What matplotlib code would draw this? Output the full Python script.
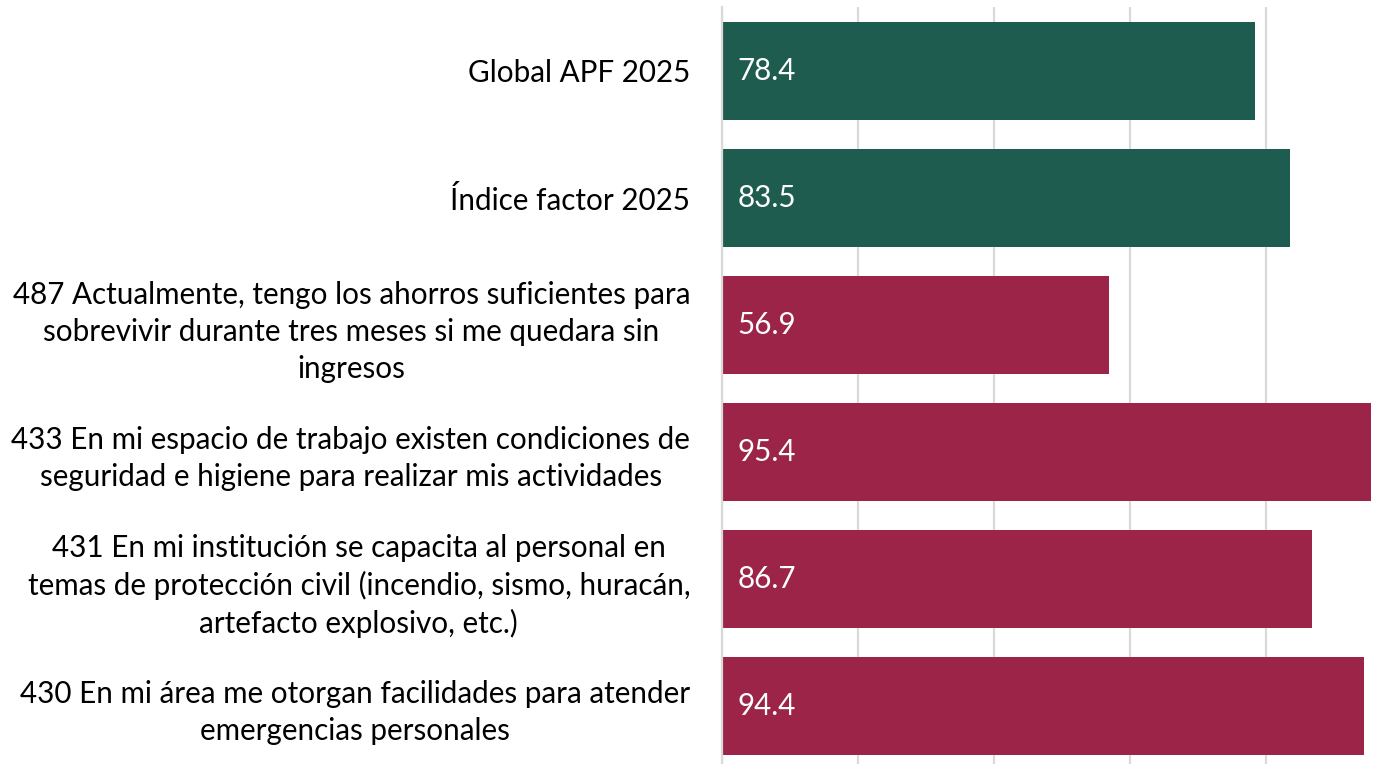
import matplotlib.pyplot as plt

# Categories top to bottom, with their scores
labels = [
    "Global APF 2025",
    "Índice factor 2025",
    "487 Actualmente, tengo los ahorros suficientes para\nsobrevivir durante tres meses si me quedara sin\ningresos",
    "433 En mi espacio de trabajo existen condiciones de\nseguridad e higiene para realizar mis actividades",
    "431 En mi institución se capacita al personal en\ntemas de protección civil (incendio, sismo, huracán,\nartefacto explosivo, etc.)",
    "430 En mi área me otorgan facilidades para atender\nemergencias personales",
]
values = [78.4, 83.5, 56.9, 95.4, 86.7, 94.4]
groups = ["global", "global", "item", "item", "item", "item"]

palette = {"global": "#1F5C50", "item": "#9B2448"}

plt.rcParams["font.family"] = ["Lato", "DejaVu Sans"]

fig = plt.figure(figsize=(13.78, 7.64), dpi=100)
ax = fig.add_axes([0.524, -0.0072, 0.476, 0.9974])

pos = list(range(len(values)))
ax.barh(pos, values, height=0.77, color=[palette[g] for g in groups], zorder=2)

for y, v in zip(pos, values):
    ax.text(2.3, y, f"{v:.1f}", color="white", fontsize=21.3,
            va="center", ha="left", zorder=3)

ax.set_yticks(pos)
ax.set_yticklabels(labels, fontsize=21.3, multialignment="center", linespacing=1.38)
ax.tick_params(axis="y", length=0, pad=23)
ax.tick_params(axis="x", length=0, labelbottom=False)
ax.set_ylim(len(values) - 0.5, -0.5)
ax.set_xlim(0, 96.47)
ax.set_xticks([0, 20, 40, 60, 80])
ax.grid(axis="x", color="#d9d9d9", linewidth=1.6, zorder=0)
for s in ["top", "right", "bottom"]:
    ax.spines[s].set_visible(False)
ax.spines["left"].set_color("#d9d9d9")
ax.spines["left"].set_linewidth(1.6)

fig.savefig("out.png", dpi=100)
